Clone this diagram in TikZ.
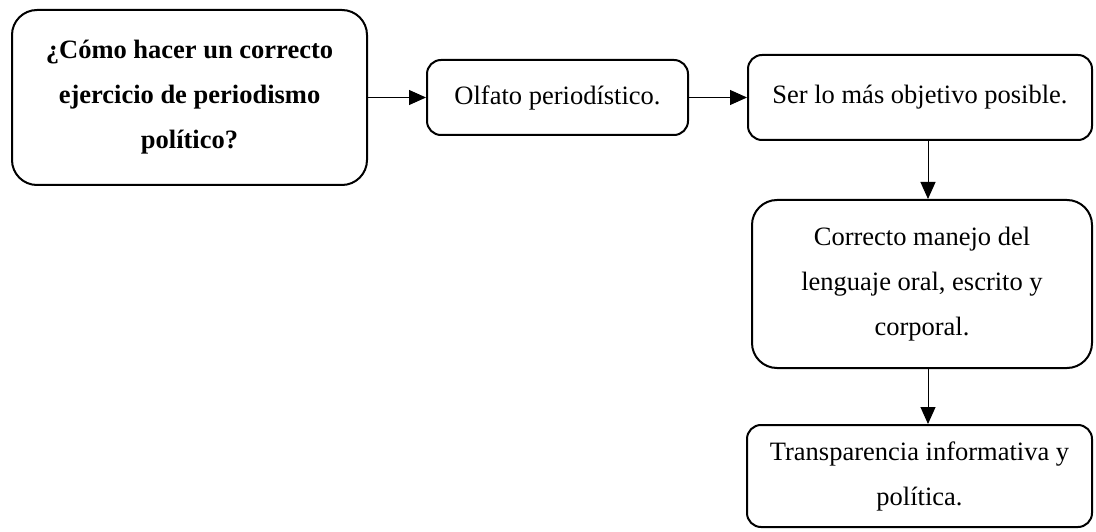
\documentclass[tikz,border=0pt]{standalone}
\usepackage{fontspec}
\setmainfont{Liberation Serif}
\usepackage{tikz}
\usetikzlibrary{positioning, arrows.meta}

\begin{document}
\begin{tikzpicture}[
    x=1pt, y=1pt,
    node distance=58pt,
    box/.style={
        draw,
        line width=2pt,
        rounded corners=14pt,
        align=center,
        inner sep=0pt,
        font=\fontsize{26.5}{45}\selectfont
    },
    arrow/.style={-{Triangle[length=17pt,width=15pt]}, line width=1pt}
]
\useasboundingbox (0,0) rectangle (1096,531);

\node[box, rounded corners=25pt, font={\fontsize{26.5}{45}\selectfont\bfseries},
      minimum width=355pt, minimum height=175pt] (question) at (189.5,433.5)
      {¿Cómo hacer un correcto\\ejercicio de periodismo\\político?};
\node[box, minimum width=261pt, minimum height=75pt] (olfato) [right=of question] {Olfato periodístico.};
\node[box, minimum width=344pt, minimum height=85pt] (objetivo) [right=of olfato] {Ser lo más objetivo posible.};
\node[box, rounded corners=25pt, minimum width=340pt, minimum height=168pt] (lenguaje)
      [below=58pt of objetivo, xshift=2pt] {Correcto manejo del\\lenguaje oral, escrito y\\corporal.};
\node[box, minimum width=345pt, minimum height=102pt] (transparencia)
      [below=55pt of lenguaje, xshift=-2.5pt] {Transparencia informativa y\\política.};

\coordinate (vline) at ([xshift=8pt]objetivo.south);

\draw[arrow] (question.east) -- (question.east -| olfato.west);
\draw[arrow] (olfato.east) -- (olfato.east -| objetivo.west);
\draw[arrow] (vline) -- (vline |- lenguaje.north);
\draw[arrow] (vline |- lenguaje.south) -- (vline |- transparencia.north);

\end{tikzpicture}
\end{document}
